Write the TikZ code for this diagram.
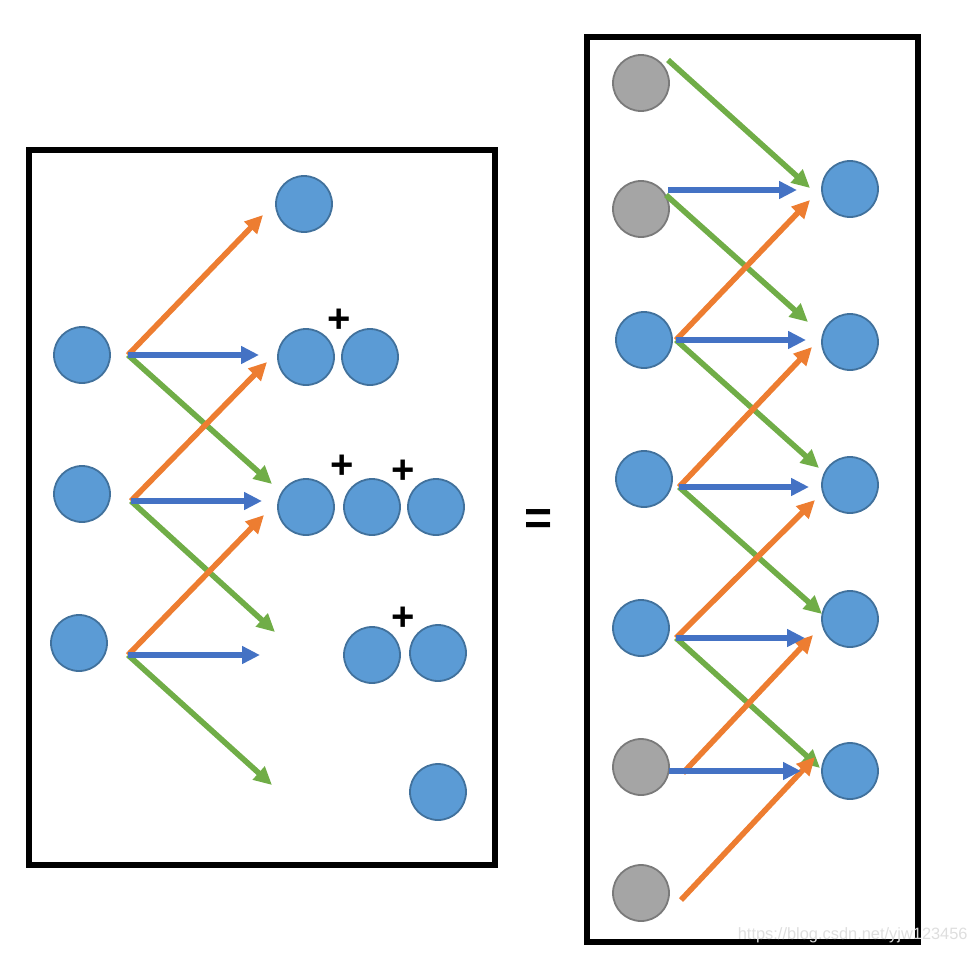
\documentclass[tikz,border=0pt]{standalone}
\usepackage{fontspec}
\setmainfont{Liberation Sans}
\usetikzlibrary{arrows.meta}

\definecolor{ballblue}{HTML}{5B9BD5}
\definecolor{ballrim}{HTML}{41719C}
\definecolor{ballgray}{HTML}{A5A5A5}
\definecolor{grayrim}{HTML}{7A7A7A}
\definecolor{arrorange}{HTML}{ED7D31}
\definecolor{arrblue}{HTML}{4472C4}
\definecolor{arrgreen}{HTML}{70AD47}

\tikzset{
  ball/.style={circle, minimum size=28pt, inner sep=0pt, fill=ballblue, draw=ballrim, line width=0.9pt},
  pad/.style={circle, minimum size=28pt, inner sep=0pt, fill=ballgray, draw=grayrim, line width=0.9pt},
  frame/.style={line width=2.6pt},
  arr/.style={line width=2.8pt, -{Triangle[length=9pt,width=8.5pt]}},
  up/.style={arr, arrorange},
  flat/.style={arr, arrblue},
  down/.style={arr, arrgreen},
  plus/.style={font=\fontsize{20}{20}\selectfont\bfseries, inner sep=0pt}
}

\begin{document}
\begin{tikzpicture}[x=0.5pt, y=-0.5pt]
\useasboundingbox (0,0) rectangle (978,953);

% left panel
\draw[frame] (29,150) rectangle (495,865);
\node[ball] (in1) at (82,355) {};
\node[ball] (in2) at (82,494) {};
\node[ball] (in3) at (79,643) {};

\node[ball] (o1) at (304,204) {};
\node[ball] (o2a) at (306,357) {};
\node[ball] (o2b) at (370,357) {};
\node[ball] (o3a) at (306,507) {};
\node[ball] (o3b) at (372,507) {};
\node[ball] (o3c) at (436,507) {};
\node[ball] (o4a) at (372,655) {};
\node[ball] (o4b) at (438,653) {};
\node[ball] (o5) at (438,792) {};

\node[plus] (p1) at (339,321) {+};
\node[plus] (p2) at (342,467) {+};
\node[plus] (p3) at (403,472) {+};
\node[plus] (p4) at (403,619) {+};

\coordinate (s1) at (128,355);
\coordinate (s2) at (131,501);
\coordinate (s3) at (128,655);
\coordinate (t1u) at (263,215);
\coordinate (t1f) at (259,355);
\coordinate (t1d) at (272,484);
\coordinate (t2u) at (267,362);
\coordinate (t2f) at (262,501);
\coordinate (t2d) at (275,632);
\coordinate (t3u) at (264,515);
\coordinate (t3f) at (260,655);
\coordinate (t3d) at (272,785);

\draw[down] (s1) -- (t1d);
\draw[down] (s2) -- (t2d);
\draw[down] (s3) -- (t3d);
\draw[up] (s1) -- (t1u);
\draw[up] (s2) -- (t2u);
\draw[up] (s3) -- (t3u);
\draw[flat] (s1) -- (t1f);
\draw[flat] (s2) -- (t2f);
\draw[flat] (s3) -- (t3f);

% equals sign
\node[font=\fontsize{24}{24}\selectfont\bfseries] (eq) at (539,522) {=};

% right panel
\draw[frame] (587,37) rectangle (918,942);
\node[pad] (g1) at (641,83) {};
\node[pad] (g2) at (641,209) {};
\node[ball] (b1) at (644,340) {};
\node[ball] (b2) at (644,479) {};
\node[ball] (b3) at (641,628) {};
\node[pad] (g3) at (641,767) {};
\node[pad] (g4) at (641,893) {};

\node[ball] (r1) at (850,189) {};
\node[ball] (r2) at (850,342) {};
\node[ball] (r3) at (850,485) {};
\node[ball] (r4) at (850,619) {};
\node[ball] (r5) at (850,771) {};

\coordinate (sg1) at (668,60);
\coordinate (sg2f) at (668,190);
\coordinate (sg2d) at (666,195);
\coordinate (sb1) at (676,340);
\coordinate (sb2) at (679,487);
\coordinate (sb3) at (676,638);
\coordinate (sg3f) at (669,771);
\coordinate (sg3u) at (683,773);
\coordinate (sg4) at (681,900);

\coordinate (e1d) at (810,188);
\coordinate (e1f) at (797,190);
\coordinate (e1u) at (810,200);
\coordinate (e2d) at (808,322);
\coordinate (e2f) at (806,340);
\coordinate (e2u) at (812,347);
\coordinate (e3d) at (819,468);
\coordinate (e3f) at (809,487);
\coordinate (e3u) at (815,500);
\coordinate (e4d) at (822,614);
\coordinate (e4f) at (805,638);
\coordinate (e4u) at (813,635);
\coordinate (e5d) at (820,768);
\coordinate (e5f) at (801,771);
\coordinate (e5u) at (815,757);

\draw[down] (sg1) -- (e1d);
\draw[down] (sg2d) -- (e2d);
\draw[down] (sb1) -- (e3d);
\draw[down] (sb2) -- (e4d);
\draw[down] (sb3) -- (e5d);
\draw[up] (sb1) -- (e1u);
\draw[up] (sb2) -- (e2u);
\draw[up] (sb3) -- (e3u);
\draw[up] (sg3u) -- (e4u);
\draw[up] (sg4) -- (e5u);
\draw[flat] (sg2f) -- (e1f);
\draw[flat] (sb1) -- (e2f);
\draw[flat] (sb2) -- (e3f);
\draw[flat] (sb3) -- (e4f);
\draw[flat] (sg3f) -- (e5f);

% watermark
\node[font=\fontsize{8.2}{8.2}\selectfont, text=black!13, anchor=east, inner sep=0pt] (wm) at (968,935) {https://blog.csdn.net/yjw123456};
\end{tikzpicture}
\end{document}
